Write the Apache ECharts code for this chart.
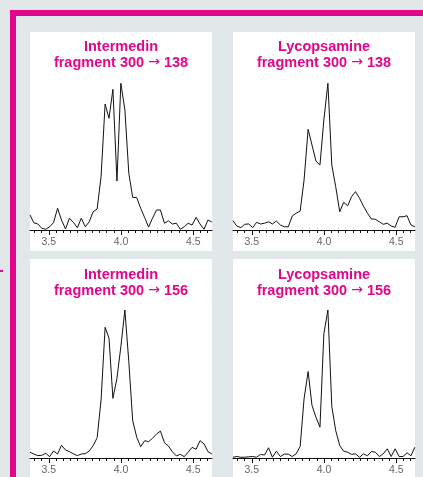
<!DOCTYPE html>
<html>
<head>
<meta charset="utf-8">
<script src="https://cdn.jsdelivr.net/npm/echarts@6/dist/echarts.min.js"></script>
<style>
html,body{margin:0;padding:0;background:#e2e7ea;}
#chart{width:423px;height:477px;}
</style>
</head>
<body>
<div id="chart"></div>
<script>
// retention time (min)
const times = [3.370,3.396,3.424,3.451,3.479,3.506,3.533,3.561,3.588,3.616,3.643,3.670,3.698,3.725,3.753,3.780,3.807,3.835,3.862,3.890,3.917,3.944,3.972,3.999,4.027,4.054,4.081,4.109,4.136,4.164,4.191,4.218,4.246,4.273,4.301,4.328,4.355,4.383,4.410,4.438,4.465,4.492,4.520,4.547,4.575,4.602,4.629];

// relative intensity (%)
const intermedin138 = [10.2,5.0,4.1,1.2,0.5,2.2,5.0,14.8,6.8,0.7,8.0,5.2,1.6,8.0,2.2,5.6,12.4,14.3,36.3,85.7,76.0,95.7,33.3,99.8,81.6,38.6,22.2,22.0,14.8,8.4,2.0,8.0,13.6,13.6,4.6,6.3,4.1,4.6,0.5,2.2,4.6,3.4,8.6,4.1,0.5,6.8,5.4];
const lycopsamine138 = [6.3,2.7,1.6,3.9,4.1,1.6,5.2,4.1,4.6,5.6,4.1,6.1,3.4,2.2,2.2,9.5,11.4,12.9,34.0,68.5,57.8,46.9,44.2,74.8,99.8,44.2,29.5,12.4,18.8,16.5,22.7,26.1,21.6,16.3,11.4,7.5,7.3,5.6,3.9,4.6,2.7,1.8,9.0,9.0,9.7,3.4,2.2];
const intermedin156 = [3.9,2.7,1.6,1.8,3.2,0.9,4.7,2.7,8.6,5.4,4.3,2.9,1.6,2.7,2.9,4.7,8.3,13.7,39.2,88.3,80.9,40.3,53.9,75.2,100,65.1,25.2,14.0,7.6,11.7,11.0,13.3,16.2,18.2,10.3,8.1,4.3,1.4,2.5,0.9,3.9,7.2,5.9,11.7,9.5,4.3,2.7];
const lycopsamine156 = [0.5,1.0,0.5,0.5,0.8,1.0,0.5,2.4,2.0,6.9,0.5,4.6,1.0,2.6,2.6,1.0,2.8,7.8,40.0,58.4,35.5,27.6,20.8,83.9,100,34.8,18.6,8.4,4.6,3.9,2.4,2.8,0.5,2.8,1.5,4.4,3.9,1.0,2.8,6.2,1.0,6.2,1.0,1.0,3.5,1.5,7.3];

const compounds = ['Intermedin','Lycopsamine','Intermedin','Lycopsamine'];
const products = ['138','138','156','156'];
const precursor = '300';
const panelData = [intermedin138, lycopsamine138, intermedin156, lycopsamine156];

const tickValues = [3.4,3.45,3.5,3.55,3.6,3.65,3.7,3.75,3.8,3.85,3.9,3.95,4.0,4.05,4.1,4.15,4.2,4.25,4.3,4.35,4.4,4.45,4.5,4.55,4.6];
const labelValues = [3.5,4.0,4.5];

const PINK = '#e2068a';
const X_MIN = 3.37, X_MAX = 4.63;
const FONT = 'Liberation Sans, Arial, sans-serif';

// layout
const panelLeft = [30, 233, 30, 233];
const panelTop = [32, 32, 259, 259];
const panelW = 182;
const plotTop = [83, 83, 310, 310];
const plotH = [147, 147, 148, 148];

const grids = [], xAxes = [], yAxes = [], series = [], titles = [], graphics = [];

graphics.push({type:'rect', shape:{x:10, y:10, width:413, height:6}, style:{fill:PINK}, z:-5});
graphics.push({type:'rect', shape:{x:10, y:10, width:6, height:467}, style:{fill:PINK}, z:-5});
graphics.push({type:'rect', shape:{x:0, y:270, width:3, height:2}, style:{fill:PINK}, z:-5});

const richBase = {
  t:{color:PINK, fontSize:14.5, fontWeight:'bold', fontFamily:FONT, lineHeight:16},
  ar:{color:PINK, fontSize:14, fontWeight:'normal', fontFamily:'DejaVu Sans', lineHeight:16}
};

for (let i = 0; i < 4; i++) {
  const pb = i < 2 ? 251 : 490;
  graphics.push({type:'rect', shape:{x:panelLeft[i], y:panelTop[i], width:panelW, height:pb-panelTop[i]}, style:{fill:'#ffffff'}, z:-5});
  grids.push({left: panelLeft[i], top: plotTop[i], width: panelW, height: plotH[i], containLabel:false});
  xAxes.push({
    type:'value', gridIndex:i, min:X_MIN, max:X_MAX, position:'bottom',
    axisLine:{show:true, lineStyle:{color:'#111', width:1}},
    axisTick:{show:true, customValues: tickValues, length:3, lineStyle:{color:'#111', width:1}},
    axisLabel:{show:true, customValues: labelValues, margin:7, color:'#666', fontSize:10.5, fontFamily:FONT,
      formatter: v => Number(v).toFixed(1)},
    splitLine:{show:false}
  });
  xAxes.push({
    type:'value', gridIndex:i, min:X_MIN, max:X_MAX, position:'bottom',
    axisLine:{show:false},
    axisTick:{show:true, customValues: labelValues, length:5, lineStyle:{color:'#111', width:1}},
    axisLabel:{show:false},
    splitLine:{show:false}
  });
  yAxes.push({type:'value', gridIndex:i, min:0, max:100, show:false, splitLine:{show:false}});
  series.push({
    type:'line', xAxisIndex:2*i, yAxisIndex:i,
    data: times.map((t, k) => [t, panelData[i][k]]),
    showSymbol:false, symbol:'none', silent:true, animation:false,
    lineStyle:{color:'#111', width:1}, clip:true, z:5
  });
  titles.push({
    text: '{t|' + compounds[i] + '}\n{t|fragment ' + precursor + ' }{ar|\u2192}{t| ' + products[i] + '}',
    left: panelLeft[i] + panelW/2, top: i < 2 ? 38.5 : 266.5,
    textAlign:'center', padding:0, itemGap:0,
    textStyle:{color:PINK, fontSize:14.5, fontWeight:'bold', fontFamily:FONT, lineHeight:16, rich: richBase}
  });
}

const chart = echarts.init(document.getElementById('chart'), null, {renderer:'canvas'});
chart.setOption({
  backgroundColor:'#e2e7ea',
  animation:false,
  title: titles,
  grid: grids,
  xAxis: xAxes,
  yAxis: yAxes,
  series: series,
  graphic: {elements: graphics}
});
</script>
</body>
</html>
